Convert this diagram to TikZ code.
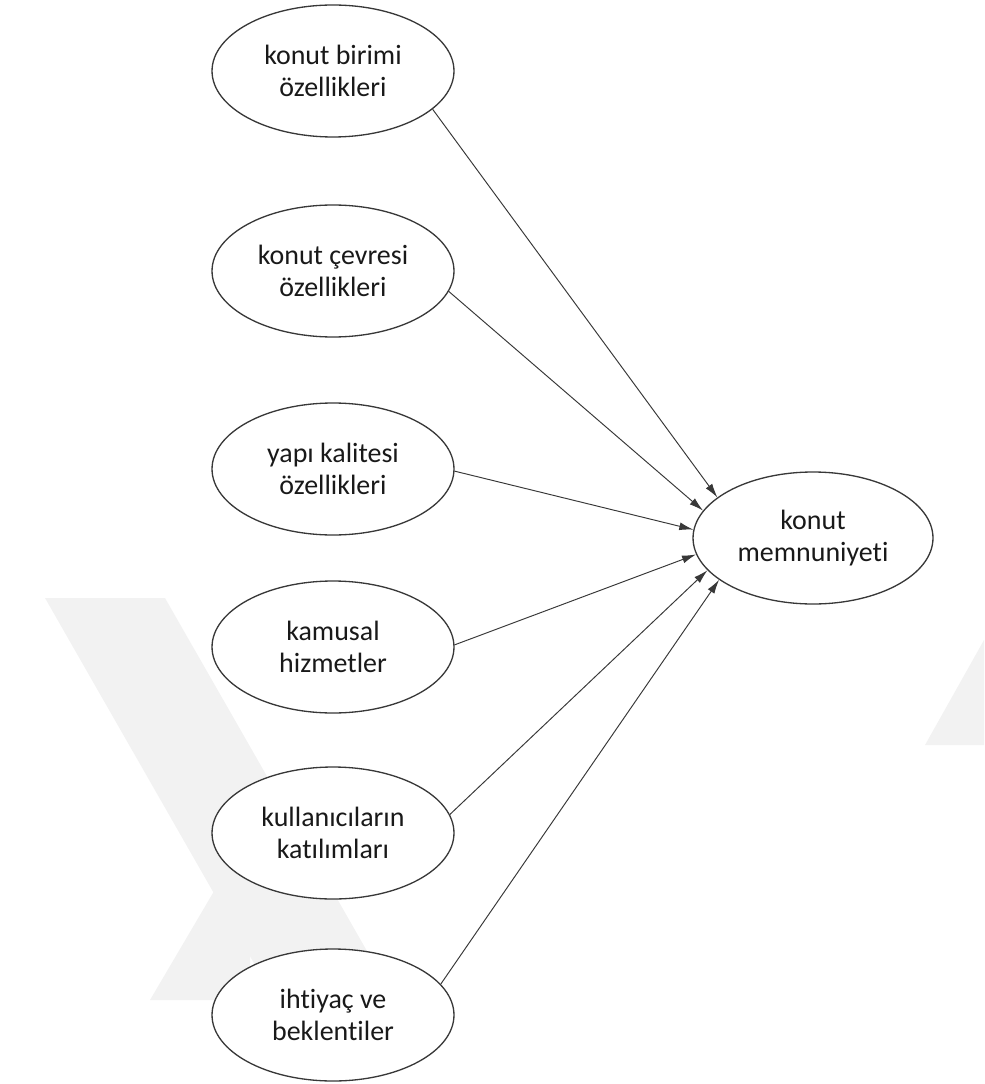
\documentclass[tikz,border=0pt]{standalone}
\usepackage{fontspec}
\setmainfont{Carlito}[Ligatures=NoCommon]
\usetikzlibrary{arrows.meta,shapes.geometric}
\definecolor{lnclr}{rgb}{0.22,0.22,0.22}
\definecolor{txclr}{rgb}{0.1,0.1,0.1}
\definecolor{wmclr}{rgb}{0.95,0.95,0.95}
\tikzset{
  factor/.style={ellipse,draw=lnclr,line width=0.75pt,fill=white,minimum width=4.84cm,minimum height=2.64cm,inner sep=0pt,align=center,text=txclr,font=\fontsize{15.9}{18.5}\selectfont},
  link/.style={-{Latex[length=8pt,width=4.5pt]},line width=0.55pt,draw=lnclr}
}

\begin{document}
\begin{tikzpicture}[x=0.02cm,y=-0.02cm]
  \useasboundingbox (0,0) rectangle (984,1084);
  \fill[wmclr] (45,598) -- (165,598) -- (395,1000) -- (275,1000) -- cycle;
  \fill[wmclr] (150,1000) -- (250,1000) -- (250,830) -- cycle;
  \fill[wmclr] (984,640) -- (984,745) -- (925,745) -- cycle;
  \node[factor] (birim) at (333,71) {konut birimi\\özellikleri};
  \node[factor] (cevre) at (333,271) {konut çevresi\\özellikleri};
  \node[factor] (yapi) at (333,469) {yapı kalitesi\\özellikleri};
  \node[factor] (kamu) at (333,647) {kamusal\\hizmetler};
  \node[factor] (katil) at (333,833) {kullanıcıların\\katılımları};
  \node[factor] (ihtiyac) at (333,1015) {ihtiyaç ve\\beklentiler};
  \node[factor,minimum width=4.8cm] (memnun) at (813,538) {konut\\memnuniyeti};
  \draw[link] (birim.-21.7) -- (memnun.157.5);
  \draw[link] (cevre.-10.8) -- (memnun.166.4);
  \draw[link] (yapi.-1) -- (memnun.176.2);
  \draw[link] (kamu.1) -- (memnun.-172.9);
  \draw[link] (katil.9.8) -- (memnun.-163.8);
  \draw[link] (ihtiyac.16.6) -- (memnun.-156.3);
\end{tikzpicture}
\end{document}
